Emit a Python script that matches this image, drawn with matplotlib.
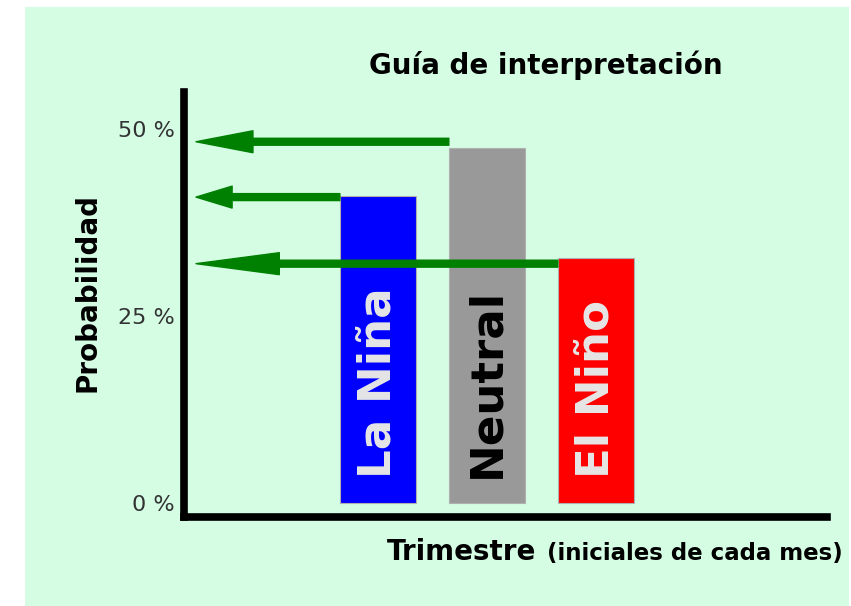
import numpy as np
import matplotlib
matplotlib.use('Agg')
import matplotlib.pyplot as plt
from matplotlib.patches import Rectangle

# datos
categorias = ['La Niña', 'Neutral', 'El Niño']
probabilidad = [41.0, 47.5, 32.8]
nivel_flecha = [40.9, 48.3, 32.0]
ticks_y = [0, 25, 50]
etiquetas_y = ['0 %', '25 %', '50 %']

colores = ['#0000ff', '#999999', '#ff0000']
color_texto = ['#e6e6e6', 'black', '#e6e6e6']
largo_punta = [26, 41, 60]   # en puntos

fig = plt.figure(figsize=(8.51, 6.06), dpi=100)
fig.patch.set_facecolor('white')

# fondo verde claro
fondo = Rectangle((25 / 851, 0), (849 - 25) / 851, (606 - 7) / 606,
                  transform=fig.transFigure, facecolor='#d4fde4',
                  edgecolor='none', zorder=-10)
fig.patches.append(fondo)

ax = fig.add_axes([184 / 851, 1 - 516.5 / 606, (827 - 184) / 851, (516.5 - 92) / 606])
ax.set_facecolor('none')

x = np.arange(len(categorias))
ancho = 0.70
ax.bar(x, probabilidad, width=ancho, color=colores, edgecolor='#b0b0b0',
       linewidth=0.8, zorder=2)

for i, cat in enumerate(categorias):
    ax.text(x[i], 3.3, cat, rotation=90, ha='center', va='bottom',
            fontsize=32.5, fontweight='bold', color=color_texto[i], zorder=3)

# flechas hacia el eje de probabilidad
for i in range(len(categorias)):
    ax.annotate('', xy=(-1.67, nivel_flecha[i]), xytext=(x[i] - ancho / 2, nivel_flecha[i]),
                arrowprops=dict(arrowstyle='simple,head_length=%g,head_width=15.8,tail_width=5' % largo_punta[i],
                                color='#008000', shrinkA=0, shrinkB=0, mutation_scale=1),
                zorder=4)

ax.set_xlim(-1.78, 4.12)
ax.set_ylim(-1.8, 54.95)
ax.set_xticks([])
ax.set_yticks(ticks_y)
ax.set_yticklabels(etiquetas_y, fontsize=16, color='#333333')
ax.tick_params(axis='y', length=0, pad=6.5)

for lado in ['top', 'right']:
    ax.spines[lado].set_visible(False)
for lado in ['left', 'bottom']:
    ax.spines[lado].set_linewidth(5.5)
    ax.spines[lado].set_color('black')

fig.text(545.5 / 851, 1 - 74 / 606, 'Guía de interpretación', ha='center', va='baseline',
         fontsize=20, fontweight='bold')
fig.text(88 / 851, 1 - 292 / 606, 'Probabilidad', rotation=90, ha='center', va='center',
         fontsize=20, fontweight='bold')
fig.text(387 / 851, 1 - 560 / 606, 'Trimestre', ha='left', va='baseline',
         fontsize=20, fontweight='bold')
fig.text(547 / 851, 1 - 560 / 606, '(iniciales de cada mes)', ha='left', va='baseline',
         fontsize=16.5, fontweight='bold')

plt.savefig('out.png', dpi=100)
